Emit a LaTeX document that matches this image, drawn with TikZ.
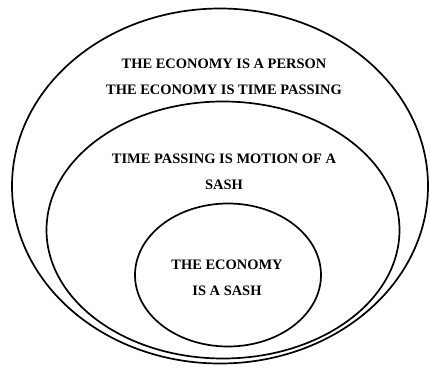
\documentclass[tikz,border=0pt]{standalone}
\usepackage{fontspec}
\setmainfont{Liberation Serif}
\usetikzlibrary{shapes.geometric}
\begin{document}
\begin{tikzpicture}
        [x=1bp,y=-1bp,
        ring/.style={ellipse,draw=black,line width=1.7bp,inner sep=0pt},
        txt/.style={font=\bfseries\fontsize{14.5}{16}\selectfont,inner sep=0pt}]
        \useasboundingbox (0,0) rectangle (430,373);
        \node[ring,minimum width=416bp,minimum height=355bp] (outer) at (220,186) {};
        \node[ring,minimum width=353bp,minimum height=257bp] (middle) at (223,230) {};
        \node[ring,minimum width=186bp,minimum height=143bp] (inner) at (228,275) {};
        \node[txt] (person) at (224,64) {THE ECONOMY IS A PERSON};
        \node[txt] (timepass) at (224,90) {THE ECONOMY IS TIME PASSING};
        \node[txt] (motion) at (224,159) {TIME PASSING IS MOTION OF A};
        \node[txt] (sash) at (224,185) {SASH};
        \node[txt] (economy) at (227,265) {THE ECONOMY};
        \node[txt] (isasash) at (227,291) {IS A SASH};
    \end{tikzpicture}
\end{document}
